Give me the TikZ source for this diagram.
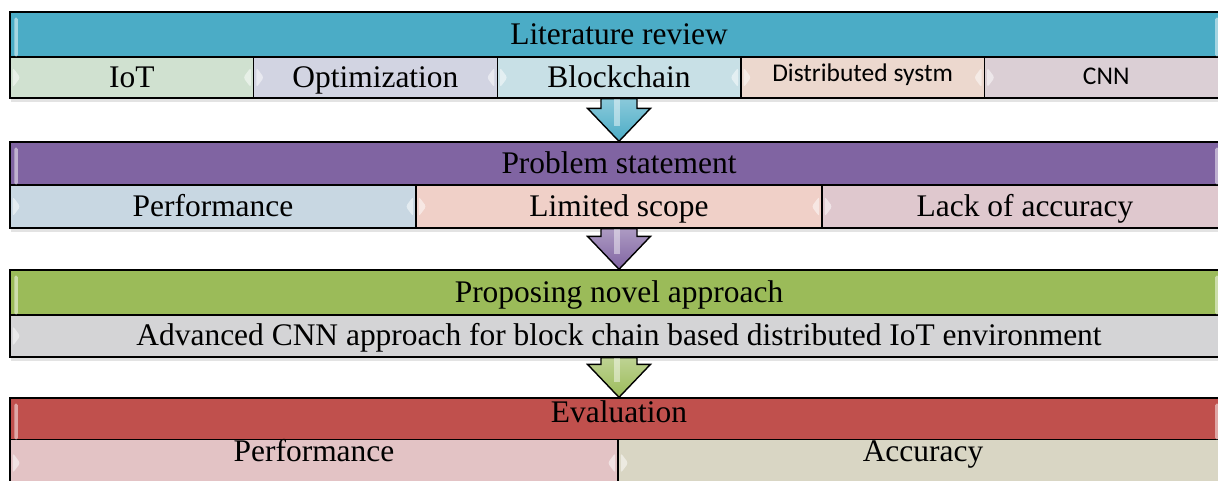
\documentclass[tikz,border=0pt]{standalone}
\usepackage{fontspec}
\setmainfont{Liberation Serif}
\newfontfamily\calibri{Carlito}
\usetikzlibrary{calc,shadows}

\definecolor{litc}{HTML}{4BACC6}
\definecolor{probc}{HTML}{8064A2}
\definecolor{propc}{HTML}{9BBB59}
\definecolor{evalc}{HTML}{C0504D}

\begin{document}
\begin{tikzpicture}[
    every node/.style={draw=black, line width=0.8pt, inner sep=0pt,
        font=\fontsize{17.9}{20}\selectfont, text height=0.45cm, text depth=0.07cm,
        drop shadow={opacity=0.22, shadow xshift=0.02cm, shadow yshift=-0.07cm}},
    head/.style={minimum width=24.36cm, minimum height=0.9cm},
    cellfive/.style={minimum width=4.872cm, minimum height=0.82cm},
    cellthree/.style={minimum width=8.12cm, minimum height=0.86cm},
    sans/.style={font=\calibri\fontsize{14.5}{16}\selectfont, text height=0.36cm, text depth=0.22cm},
    lowrow/.style={minimum height=0.92cm, text height=0.43cm, text depth=0.51cm},
    gloss/.style={fill=white, opacity=0.5, draw=none},
    stagearrow/.style={draw=black, line width=0.8pt, line join=miter}]

    \path[use as bounding box, clip] (0,0) rectangle (24.36,-9.6);

    % literature review
    \node[head, fill=litc] (lit) at (12.38,-0.69) {Literature review};
    \node[cellfive, fill={rgb,255:red,208;green,225;blue,208}] (iot) at (2.636,-1.55) {IoT};
    \node[cellfive, fill={rgb,255:red,210;green,212;blue,226}] (opt) at (7.508,-1.55) {Optimization};
    \node[cellfive, fill={rgb,255:red,200;green,224;blue,230}] (blk) at (12.38,-1.55) {Blockchain};
    \node[cellfive, sans, fill={rgb,255:red,236;green,216;blue,206}] (dist) at (17.252,-1.55) {Distributed systm};
    \node[cellfive, sans, text height=0.36cm, text depth=0.08cm, fill={rgb,255:red,219;green,207;blue,213}] (cnn) at (22.124,-1.55) {CNN};

    % problem statement
    \node[head, minimum height=0.86cm, fill=probc] (prob) at (12.38,-3.27) {Problem statement};
    \node[cellthree, fill={rgb,255:red,200;green,215;blue,226}] (perf) at (4.26,-4.13) {Performance};
    \node[cellthree, fill={rgb,255:red,240;green,208;blue,200}] (scope) at (12.38,-4.13) {Limited scope};
    \node[cellthree, fill={rgb,255:red,223;green,200;blue,206}] (lack) at (20.5,-4.13) {Lack of accuracy};

    % proposed approach
    \node[head, fill=propc] (prop) at (12.38,-5.85) {Proposing novel approach};
    \node[head, minimum height=0.84cm, fill={rgb,255:red,212;green,212;blue,214}] (adv) at (12.38,-6.72)
        {Advanced CNN approach for block chain based distributed IoT environment};

    % evaluation
    \node[head, minimum height=0.84cm, text height=0.43cm, text depth=0.31cm, fill=evalc] (eval) at (12.38,-8.38) {Evaluation};
    \node[lowrow, minimum width=12.16cm, fill={rgb,255:red,227;green,195;blue,197}] (eperf) at (6.28,-9.26) {Performance};
    \node[lowrow, minimum width=12.2cm, fill={rgb,255:red,217;green,214;blue,196}] (acc) at (18.46,-9.26) {Accuracy};

    % highlights on the bars and cells
    \foreach \h in {lit,prob,prop,eval}{
        \fill[gloss, rounded corners=1pt] ($(\h.north west)+(0.1,-0.12)$) rectangle ($(\h.south west)+(0.17,0.02)$);
        \fill[gloss, rounded corners=1pt] ($(\h.north east)+(-0.27,-0.12)$) rectangle ($(\h.south east)+(-0.2,0.02)$);
    }
    \foreach \c in {iot,opt,blk,dist,cnn,perf,scope,lack,adv,eperf,acc}{
        \fill[gloss, rounded corners=1.5pt] ($(\c.west)+(0.07,0.2)$) -- ($(\c.west)+(0.22,0)$) -- ($(\c.west)+(0.07,-0.2)$) -- cycle;
        \fill[gloss, rounded corners=1.5pt] ($(\c.east)+(-0.07,0.2)$) -- ($(\c.east)+(-0.22,0)$) -- ($(\c.east)+(-0.07,-0.2)$) -- cycle;
    }

    % arrows between the stages
    \foreach \from/\to/\col in {blk/prob/litc, scope/prop/probc, adv/eval/propc}{
        \path[stagearrow, top color=\col!65!white, bottom color=\col]
            ($(\from.south)+(-0.36,0)$) -- ($(\to.north)+(-0.36,0.66)$) -- ($(\to.north)+(-0.63,0.66)$)
            -- (\to.north) -- ($(\to.north)+(0.63,0.66)$) -- ($(\to.north)+(0.36,0.66)$)
            -- ($(\from.south)+(0.36,0)$) -- cycle;
        \fill[white, opacity=0.45] ($(\from.south)+(-0.1,0)$) rectangle ($(\to.north)+(0.02,0.3)$);
    }
\end{tikzpicture}
\end{document}
